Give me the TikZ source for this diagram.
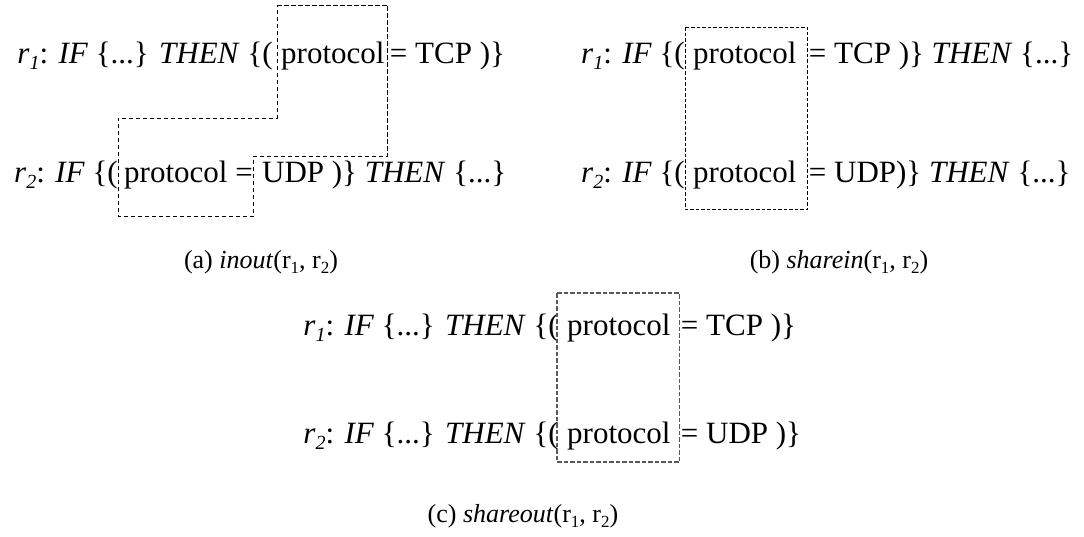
\documentclass[tikz,border=0pt]{standalone}
\usepackage{fontspec}
\setmainfont{Liberation Serif}
% lowered, smaller subscripts for rule names
\newcommand\rsub[1]{\raisebox{-0.22em}{\fontsize{20}{20}\selectfont #1}}
\newcommand\csub[1]{\raisebox{-0.2em}{\fontsize{17}{17}\selectfont #1}}
\newcommand\rulename[1]{\textit{r}\rsub{\textit{#1}}:}
\begin{document}
\begin{tikzpicture}[x=1pt,y=-1pt,
  txt/.style={inner sep=0pt, font=\fontsize{31}{36}\selectfont},
  pre/.style={txt, anchor=base east},
  post/.style={txt, anchor=base west},
  captext/.style={inner sep=0pt, font=\fontsize{26}{30}\selectfont, anchor=base},
  boxa/.style={draw=black, line width=0.9pt, dash pattern=on 4.5pt off 2.5pt},
  boxb/.style={draw=black, line width=0.7pt, dash pattern=on 3.5pt off 2pt},
  boxc/.style={draw=black!65, line width=1.2pt, dash pattern=on 4.5pt off 2pt}]
\useasboundingbox (0,0) rectangle (1084,536);

% ---------- (a) inout ----------
\node[post] (pa1) at (281,63) {protocol};
\node[pre]  (la1) at ([xshift=-8pt]pa1.base west) {\rulename{1} \textit{IF} \{...\} \textit{THEN} \{(};
\node[post] (ra1) at ([xshift=5pt]pa1.base east) {= TCP )\}};

\node[post] (pa2) at (124,182) {protocol =};
\node[pre]  (la2) at ([xshift=-6pt]pa2.base west) {\rulename{2} \textit{IF} \{(};
\node[post] (ra2) at ([xshift=9pt]pa2.base east) {UDP )\} \textit{THEN} \{...\}};

\coordinate (aL) at ([xshift=-4pt]pa1.west);
\coordinate (aR) at ([xshift=3pt]pa1.east);
\coordinate (bL) at ([xshift=-6pt]pa2.west);
\coordinate (bR) at ([xshift=1pt]pa2.east);
\draw[boxa] (aL |- 0,5) -- (aR |- 0,5) -- (aR |- 0,156) -- (bR |- 0,156)
  -- (bR |- 0,216) -- (bL |- 0,216) -- (bL |- 0,118) -- (aL |- 0,118) -- cycle;

\node[captext] (capa) at (261,268) {(a) \textit{inout}(r\csub{1}, r\csub{2})};

% ---------- (b) sharein ----------
\node[post] (pb1) at (693,63) {protocol};
\node[pre]  (lb1) at ([xshift=-8pt]pb1.base west) {\rulename{1} \textit{IF} \{(};
\node[post] (rb1) at ([xshift=12pt]pb1.base east) {= TCP )\} \textit{THEN} \{...\}};

\node[post] (pb2) at (693,182) {protocol};
\node[pre]  (lb2) at ([xshift=-8pt]pb2.base west) {\rulename{2} \textit{IF} \{(};
\node[post] (rb2) at ([xshift=12pt]pb2.base east) {= UDP)\} \textit{THEN} \{...\}};

\coordinate (cL) at ([xshift=-8pt]pb1.west);
\coordinate (cR) at ([xshift=11pt]pb1.east);
\draw[boxb] (cL |- 0,27) rectangle (cR |- 0,209);

\node[captext] (capb) at (839,268) {(b) \textit{sharein}(r\csub{1}, r\csub{2})};

% ---------- (c) shareout ----------
\node[post] (pc1) at (567,335) {protocol};
\node[pre]  (lc1) at ([xshift=-8pt]pc1.base west) {\rulename{1} \textit{IF} \{...\} \textit{THEN} \{(};
\node[post] (rc1) at ([xshift=10pt]pc1.base east) {= TCP )\}};

\node[post] (pc2) at (567,443) {protocol};
\node[pre]  (lc2) at ([xshift=-8pt]pc2.base west) {\rulename{2} \textit{IF} \{...\} \textit{THEN} \{(};
\node[post] (rc2) at ([xshift=10pt]pc2.base east) {= UDP )\}};

\coordinate (dL) at ([xshift=-10pt]pc1.west);
\coordinate (dR) at ([xshift=9pt]pc1.east);
\draw[boxc] (dL |- 0,293) rectangle (dR |- 0,462);

\node[captext] (capc) at (523,522) {(c) \textit{shareout}(r\csub{1}, r\csub{2})};
\end{tikzpicture}
\end{document}
